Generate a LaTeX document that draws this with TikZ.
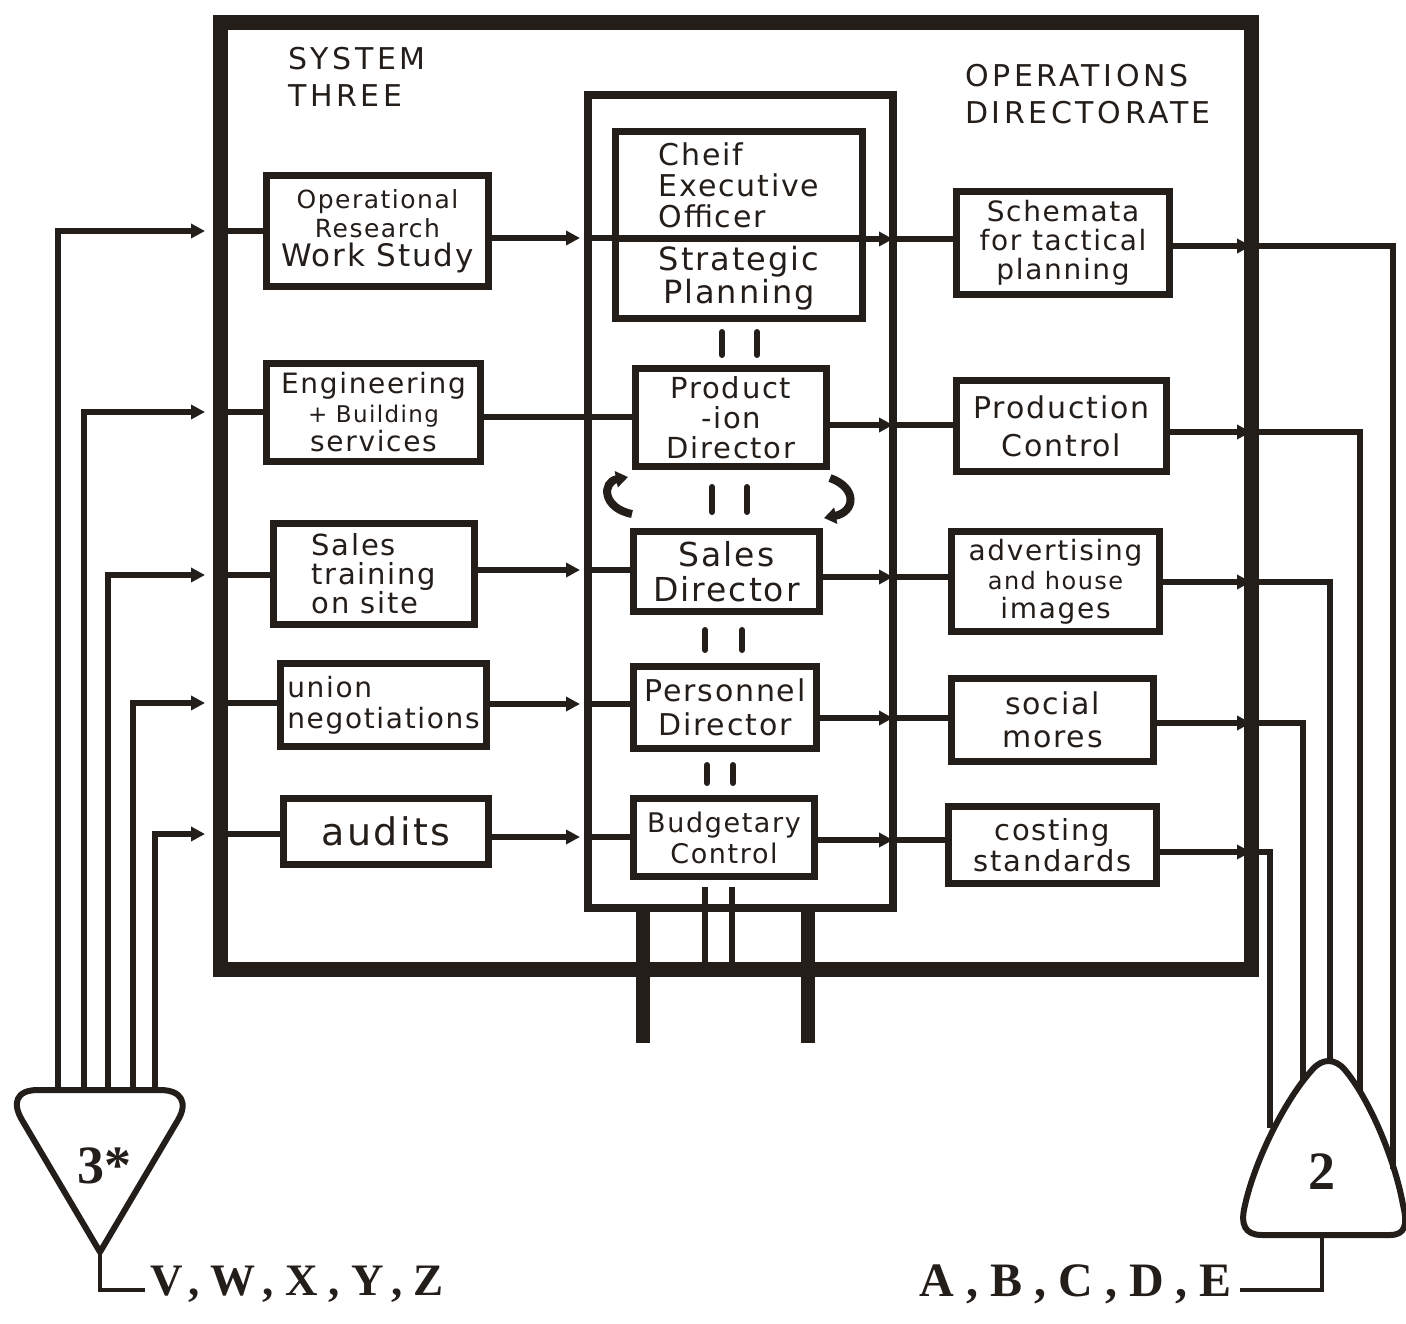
\documentclass[tikz,border=0pt]{standalone}
\usepackage{fontspec}
\setmainfont{DejaVu Sans}
\newfontfamily\handfont[LetterSpace=6]{DejaVu Sans}
\newfontfamily\capsfont[LetterSpace=12]{DejaVu Sans}
\newfontfamily\printfont[LetterSpace=25]{Liberation Serif}
\newfontfamily\digitfont{Liberation Serif}
\newcommand\hf[2]{\handfont\fontsize{#1}{#2}\selectfont}
\usetikzlibrary{arrows.meta}
\definecolor{ink}{HTML}{241E1B}
\begin{document}
\begin{tikzpicture}[x=1pt,y=-1pt,
  every node/.style={text=ink},
  outerframe/.style={draw=ink, line width=15pt, inner sep=0pt},
  centralbox/.style={draw=ink, line width=8pt, inner sep=0pt},
  unit/.style={draw=ink, line width=7pt, inner sep=0pt, align=center},
  conn/.style={draw=ink, line width=6pt},
  arr/.style={conn, -{Triangle[length=14pt,width=14pt]}, shorten >=4pt},
  farr/.style={conn, -{Triangle[length=14pt,width=14pt]}, shorten >=7.5pt},
  tick/.style={draw=ink, line width=6pt, line cap=round},
  stub/.style={draw=ink, line width=14pt},
  curv/.style={draw=ink, line width=8pt, -{Triangle[length=12pt,width=16pt]}},
  tri/.style={draw=ink, line width=6pt, line join=round},
  label/.style={inner sep=0pt, align=left}]
\useasboundingbox (0,0) rectangle (1406,1323);
\fill[white] (0,0) rectangle (1406,1323);

% frames
\node[outerframe, minimum width=1031pt, minimum height=947pt] (frame) at (735.5,495.5) {};
\node[centralbox, minimum width=305pt, minimum height=813pt] (central) at (740.5,501.5) {};

% headers
\node[label, anchor=west, font=\capsfont\fontsize{30}{37}\selectfont] (systhree) at (288,77) {SYSTEM\\THREE};
\node[label, anchor=west, font=\capsfont\fontsize{30}{37}\selectfont] (opsdir) at (965,94) {OPERATIONS\\DIRECTORATE};

% left boxes
\node[unit, minimum width=222pt, minimum height=111pt, font=\hf{25}{29}] (L1) at (377.5,231) {Operational\\Research\\{\hf{31}{29}Work Study}};
\node[unit, minimum width=214pt, minimum height=98pt, font=\hf{28}{29}] (L2) at (373.5,412.5) {Engineering\\{\hf{23}{29}+ Building}\\services};
\node[unit, align=left, minimum width=201pt, minimum height=101pt, font=\hf{29}{29}] (L3) at (374,574) {Sales\\training\\on site};
\node[unit, align=left, minimum width=206pt, minimum height=83pt, font=\hf{28}{31}] (L4) at (383.5,705) {union\\negotiations};
\node[unit, minimum width=205pt, minimum height=66pt, font=\hf{38}{38}] (L5) at (386,831.5) {audits};

% central boxes
\node[unit, align=left, minimum width=247pt, minimum height=107pt, font=\hf{30}{31}] (ceo) at (739,185) {Cheif\\Executive\\Officer};
\node[unit, minimum width=247pt, minimum height=80pt, font=\hf{32}{33}] (strat) at (739,278) {Strategic\\Planning};
\node[unit, minimum width=191pt, minimum height=98pt, font=\hf{29}{30}] (pd) at (731,417.5) {Product\\-ion\\Director};
\node[unit, minimum width=186pt, minimum height=80pt, font=\hf{33}{35}] (sd) at (726.5,571.5) {Sales\\Director};
\node[unit, minimum width=183pt, minimum height=82pt, font=\hf{30}{34}] (ped) at (725,707.5) {Personnel\\Director};
\node[unit, minimum width=181pt, minimum height=78pt, font=\hf{27}{31}] (bc) at (724,837.5) {Budgetary\\Control};

% right boxes
\node[unit, minimum width=213pt, minimum height=103pt, font=\hf{28}{29}] (R1) at (1063,243) {Schemata\\for tactical\\planning};
\node[unit, minimum width=210pt, minimum height=91pt, font=\hf{30}{38}] (R2) at (1061.5,426) {Production\\Control};
\node[unit, minimum width=208pt, minimum height=100pt, font=\hf{28}{29}] (R3) at (1055.5,581.5) {advertising\\{\hf{24}{29}and house}\\images};
\node[unit, minimum width=202pt, minimum height=83pt, font=\hf{30}{33}] (R4) at (1052.5,720) {social\\mores};
\node[unit, minimum width=208pt, minimum height=77pt, font=\hf{29}{31}] (R5) at (1052.5,845) {costing\\standards};

% row levels
\coordinate (la1) at (0,231); \coordinate (lb1) at (0,238);
\coordinate (la2) at (0,412); \coordinate (lb2) at (0,417);
\coordinate (la3) at (0,575); \coordinate (lb3) at (0,570);
\coordinate (la4) at (0,703); \coordinate (lb4) at (0,704);
\coordinate (la5) at (0,834); \coordinate (lb5) at (0,837);
\coordinate (ra1) at (0,239); \coordinate (rb1) at (0,246);
\coordinate (ra2) at (0,425); \coordinate (rb2) at (0,432);
\coordinate (ra3) at (0,577); \coordinate (rb3) at (0,582);
\coordinate (ra4) at (0,718); \coordinate (rb4) at (0,723);
\coordinate (ra5) at (0,840); \coordinate (rb5) at (0,852);

% triangle ends
\coordinate (t3a) at (58,1090); \coordinate (t3b) at (84,1090);
\coordinate (t3c) at (108,1090); \coordinate (t3d) at (133,1090);
\coordinate (t3e) at (155,1090);
\coordinate (t2a) at (1393,1169); \coordinate (t2b) at (1360,1092);
\coordinate (t2c) at (1330,1061); \coordinate (t2d) at (1303,1080);
\coordinate (t2e) at (1270,1128);

% left side connectors
\draw[farr] (t3a) |- (frame.west |- la1);
\draw[farr] (t3b) |- (frame.west |- la2);
\draw[farr] (t3c) |- (frame.west |- la3);
\draw[farr] (t3d) |- (frame.west |- la4);
\draw[farr] (t3e) |- (frame.west |- la5);
\draw[conn] (frame.west |- la1) -- (L1.west |- la1);
\draw[conn] (frame.west |- la2) -- (L2.west |- la2);
\draw[conn] (frame.west |- la3) -- (L3.west |- la3);
\draw[conn] (frame.west |- la4) -- (L4.west |- la4);
\draw[conn] (frame.west |- la5) -- (L5.west |- la5);
\draw[arr] (L1.east |- lb1) -- (central.west |- lb1);
\draw[conn] (central.west |- lb1) -- (ceo.west |- lb1);
\draw[conn] (L2.east |- lb2) -- (pd.west |- lb2);
\draw[arr] (L3.east |- lb3) -- (central.west |- lb3);
\draw[conn] (central.west |- lb3) -- (sd.west |- lb3);
\draw[arr] (L4.east |- lb4) -- (central.west |- lb4);
\draw[conn] (central.west |- lb4) -- (ped.west |- lb4);
\draw[arr] (L5.east |- lb5) -- (central.west |- lb5);
\draw[conn] (central.west |- lb5) -- (bc.west |- lb5);

% right side connectors
\draw[arr] (ceo.east |- ra1) -- (central.east |- ra1);
\draw[conn] (central.east |- ra1) -- (R1.west |- ra1);
\draw[arr] (pd.east |- ra2) -- (central.east |- ra2);
\draw[conn] (central.east |- ra2) -- (R2.west |- ra2);
\draw[arr] (sd.east |- ra3) -- (central.east |- ra3);
\draw[conn] (central.east |- ra3) -- (R3.west |- ra3);
\draw[arr] (ped.east |- ra4) -- (central.east |- ra4);
\draw[conn] (central.east |- ra4) -- (R4.west |- ra4);
\draw[arr] (bc.east |- ra5) -- (central.east |- ra5);
\draw[conn] (central.east |- ra5) -- (R5.west |- ra5);
\draw[farr] (R1.east |- rb1) -- (frame.east |- rb1);
\draw[farr] (R2.east |- rb2) -- (frame.east |- rb2);
\draw[farr] (R3.east |- rb3) -- (frame.east |- rb3);
\draw[farr] (R4.east |- rb4) -- (frame.east |- rb4);
\draw[farr] (R5.east |- rb5) -- (frame.east |- rb5);
\draw[conn] (frame.east |- rb1) -| (t2a);
\draw[conn] (frame.east |- rb2) -| (t2b);
\draw[conn] (frame.east |- rb3) -| (t2c);
\draw[conn] (frame.east |- rb4) -| (t2d);
\draw[conn] (frame.east |- rb5) -| (t2e);

% double ticks between central boxes
\draw[tick] (722,332) -- (722,355); \draw[tick] (757,332) -- (757,355);
\draw[tick] (712,487) -- (712,512); \draw[tick] (747,487) -- (747,512);
\draw[tick] (705,630) -- (705,650); \draw[tick] (742,630) -- (742,650);
\draw[tick] (707,765) -- (707,783); \draw[tick] (733,765) -- (733,783);
\draw[conn] (705,887) -- (705,968);
\draw[conn] (732,887) -- (732,968);

% curved arrows
\draw[curv] (632,514) .. controls (602,508) and (602,482) .. (628,477);
\draw[curv] (830,478) .. controls (858,488) and (855,512) .. (824,518);

% stubs below
\draw[stub] (643,908) -- (643,1043);
\draw[stub] (808,908) -- (808,1043);

% triangle 3*
\draw[tri] (100,1252) -- (22,1120) .. controls (12,1103) and (16,1090) .. (38,1090) -- (160,1090) .. controls (182,1090) and (188,1103) .. (178,1120) -- cycle;
\node[inner sep=0pt, font=\digitfont\bfseries\fontsize{54}{54}\selectfont] (sys3) at (104,1166) {3*};
\coordinate (v3) at (100,1252);
\draw[conn, line width=4pt] (v3) -- (100,1290) -- (145,1290);
\node[label, anchor=west, font=\printfont\bfseries\fontsize{45}{45}\selectfont] (vwxyz) at (150,1284) {V,W,X,Y,Z};

% triangle 2
\draw[tri] (1262,1235) -- (1390,1235) .. controls (1405,1235) and (1408,1225) .. (1403,1205) .. controls (1395,1160) and (1370,1100) .. (1345,1070) .. controls (1335,1058) and (1322,1058) .. (1312,1070) .. controls (1285,1100) and (1255,1160) .. (1245,1205) .. controls (1240,1225) and (1245,1235) .. (1262,1235) -- cycle;
\node[inner sep=0pt, font=\digitfont\bfseries\fontsize{54}{54}\selectfont] (sys2) at (1322,1172) {2};
\coordinate (v2) at (1322,1235);
\draw[conn, line width=4pt] (v2) -- (1322,1290) -- (1240,1290);
\node[label, anchor=east, font=\printfont\bfseries\fontsize{48}{48}\selectfont] (abcde) at (1232,1284) {A,B,C,D,E};
\end{tikzpicture}
\end{document}
